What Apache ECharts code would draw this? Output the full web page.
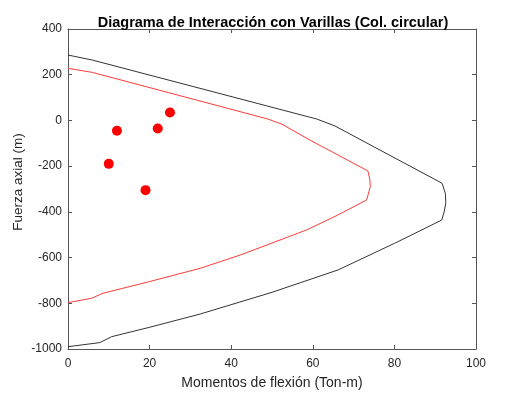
<!DOCTYPE html>
<html>
<head>
<meta charset="utf-8">
<script src="https://cdn.jsdelivr.net/npm/echarts@6/dist/echarts.min.js"></script>
<style>html,body{margin:0;padding:0;background:#fff;}#c{width:525px;height:394px;}</style>
</head>
<body>
<div id="c"></div>
<script>
// Nominal interaction curve (black)
var blackM = [0, 6, 61, 65.4, 91.7, 92.5, 92.6, 92.2, 91.6, 80, 66.2, 50, 32.4, 20, 10.7, 7.8, 0];
var blackP = [286, 264, 6, -24, -275, -320, -360, -400, -436, -538, -654, -752, -847, -905, -946, -972, -990];
// Design interaction curve (red)
var redM = [0, 6, 49, 52.4, 59.3, 73.5, 74, 74.1, 73.2, 66, 58.5, 42.2, 32.4, 20, 8.6, 5.8, 0];
var redP = [228, 210, 6, -16, -86, -221, -260, -290, -348, -415, -479, -589, -647, -705, -756, -778, -797];
// Load points
var ptM = [12, 22, 25, 10, 19];
var ptP = [-45, -35, 35, -190, -305];
var xTicks = [0, 20, 40, 60, 80, 100];
var yTicks = [-1000, -800, -600, -400, -200, 0, 200, 400];

function zip(a, b) { return a.map(function (v, i) { return [v, b[i]]; }); }

var font = 'Liberation Sans, Arial, Helvetica, sans-serif';
var axColor = '#555555';
var chart = echarts.init(document.getElementById('c'));
function baseAxis(extra) {
  return Object.assign({
    type: 'value',
    axisLine: { show: true, onZero: false, lineStyle: { color: axColor, width: 1 } },
    axisTick: { show: true, inside: true, length: 4, lineStyle: { color: axColor } },
    splitLine: { show: false }
  }, extra);
}
var labelStyle = { fontFamily: font, fontSize: 12, color: '#262626', formatter: function (v) { return String(v); } };
chart.setOption({
  animation: false,
  backgroundColor: '#ffffff',
  title: {
    text: 'Diagrama de Interacción con Varillas (Col. circular)',
    left: 268, top: 10, textAlign: 'center',
    textStyle: { fontFamily: font, fontSize: 14.5, fontWeight: 'bold', color: '#000' }
  },
  grid: { left: 68, right: 49, top: 29, bottom: 45, outerBoundsMode: 'none', containLabel: false },
  xAxis: [
    baseAxis({
      min: xTicks[0], max: xTicks[xTicks.length - 1], interval: 20,
      position: 'bottom',
      name: 'Momentos de flexión (Ton-m)', nameLocation: 'middle', nameGap: 27,
      nameTextStyle: { fontFamily: font, fontSize: 14, color: '#262626' },
      axisLabel: Object.assign({ margin: 9 }, labelStyle)
    }),
    baseAxis({
      min: xTicks[0], max: xTicks[xTicks.length - 1], interval: 20,
      position: 'top', axisLabel: { show: false }
    })
  ],
  yAxis: [
    baseAxis({
      min: yTicks[0], max: yTicks[yTicks.length - 1], interval: 200,
      position: 'left',
      axisLabel: Object.assign({ margin: 6 }, labelStyle)
    }),
    baseAxis({
      min: yTicks[0], max: yTicks[yTicks.length - 1], interval: 200,
      position: 'right', axisLabel: { show: false }
    })
  ],
  graphic: [{
    type: 'text', x: 18, y: 182, rotation: Math.PI / 2,
    style: { text: 'Fuerza axial (m)', fontFamily: font, fontSize: 13.5, fill: '#262626', align: 'center', verticalAlign: 'middle' }
  }],
  series: [
    {
      type: 'line', data: zip(blackM, blackP), showSymbol: false, smooth: false,
      lineStyle: { color: '#333333', width: 1 }, xAxisIndex: 0, yAxisIndex: 0
    },
    {
      type: 'line', data: zip(redM, redP), showSymbol: false, smooth: false,
      lineStyle: { color: '#ff3b3b', width: 1 }, xAxisIndex: 0, yAxisIndex: 0
    },
    {
      type: 'scatter', data: zip(ptM, ptP), symbol: 'circle', symbolSize: 10,
      itemStyle: { color: '#ff0000', opacity: 1 }, xAxisIndex: 0, yAxisIndex: 0
    }
  ]
});
</script>
</body>
</html>
